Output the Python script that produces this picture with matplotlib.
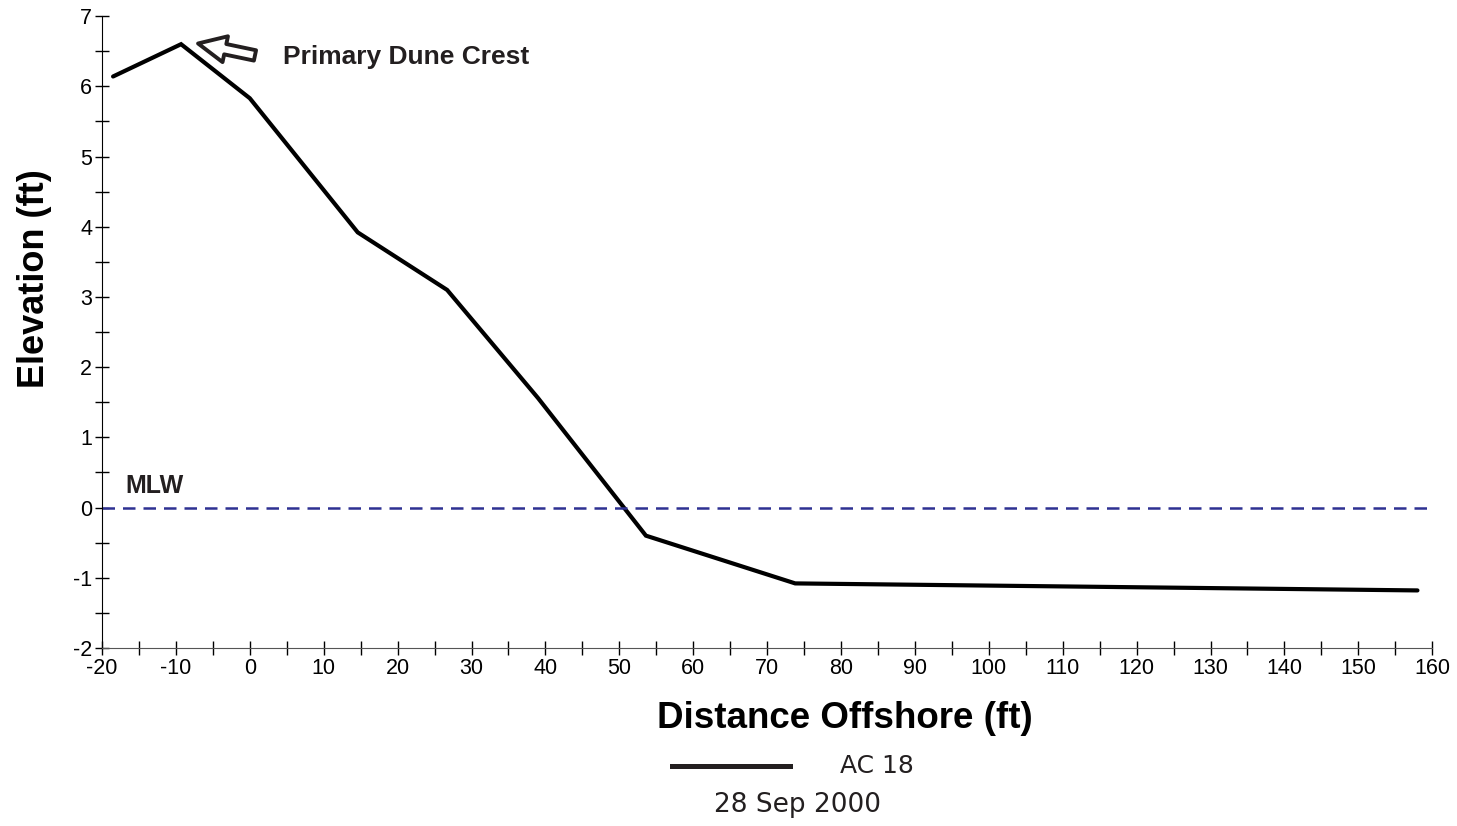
import numpy as np
import matplotlib.pyplot as plt
from matplotlib.ticker import MultipleLocator

# profile AC 18, 28 Sep 2000
distance = [-18.5, -9.3, 0, 14.6, 26.7, 39, 53.6, 73.8, 158]
elevation = [6.14, 6.6, 5.83, 3.92, 3.1, 1.56, -0.4, -1.08, -1.18]
mlw = 0.0

xticks = list(range(-20, 161, 10))
yticks = list(range(-2, 8))

font = "Liberation Sans"
legend_font = "DejaVu Sans"


def main():
    plt.rcParams['axes.unicode_minus'] = False
    fig = plt.figure(figsize=(14.57, 8.26), dpi=100)
    ax = fig.add_axes([0.070, 0.2155, 0.913, 0.765])

    ax.plot(distance, elevation, "k-", lw=3.0, solid_capstyle="round",
            solid_joinstyle="miter")
    ax.axhline(mlw, color="#2e3192", lw=1.8, ls=(0, (5, 3.2)))

    ax.set_xlim(-20, 160)
    ax.set_ylim(-2, 7)
    ax.set_xticks(xticks)
    ax.set_yticks(yticks)
    ax.set_xticklabels([str(v) for v in xticks], fontsize=15.5, family=font)
    ax.set_yticklabels([str(v) for v in yticks], fontsize=15.5, family=font)
    ax.xaxis.set_minor_locator(MultipleLocator(5))
    ax.yaxis.set_minor_locator(MultipleLocator(0.5))
    ax.tick_params(which="both", direction="inout", length=10, width=1, pad=2)

    for s in ["top", "right"]:
        ax.spines[s].set_visible(False)
    ax.spines["bottom"].set_color("#555555")

    fig.text(845 / 1457, 1 - 718 / 826, "Distance Offshore (ft)", fontsize=26.5,
             fontweight="bold", family=font, ha="center", va="center")
    fig.text(35 / 1457, 1 - 279 / 826, "Elevation (ft)", fontsize=26,
             fontweight="bold", family=font, ha="center", va="center", rotation=90)

    ax.text(-16.9, 0.21, "MLW", fontsize=18, fontweight="bold",
            family=font, color="#231f20")

    ax.annotate("", xy=(-7.0, 6.61), xytext=(0.7, 6.44),
                arrowprops=dict(arrowstyle="simple,head_length=1.0,head_width=0.95,tail_width=0.38",
                                fc="white", ec="#231f20", lw=2.8,
                                shrinkA=0, shrinkB=0, mutation_scale=20))
    ax.text(4.5, 6.42, "Primary Dune Crest", fontsize=19, fontweight="bold",
            family=font, color="#231f20", va="center")

    # legend drawn beneath the axis
    fig.lines.append(plt.Line2D([672 / 1457, 790 / 1457], [1 - 766 / 826] * 2,
                                transform=fig.transFigure, color="#231f20", lw=3.6))
    fig.text(840 / 1457, 1 - 766 / 826, "AC 18", fontsize=18, family=legend_font,
             va="center", ha="left", color="#231f20")
    fig.text(797 / 1457, 1 - 805 / 826, "28 Sep 2000", fontsize=19, family=legend_font,
             va="center", ha="center", color="#231f20")

    fig.savefig("out.png", dpi=100)
    plt.close()


if __name__ == '__main__':
    main()
